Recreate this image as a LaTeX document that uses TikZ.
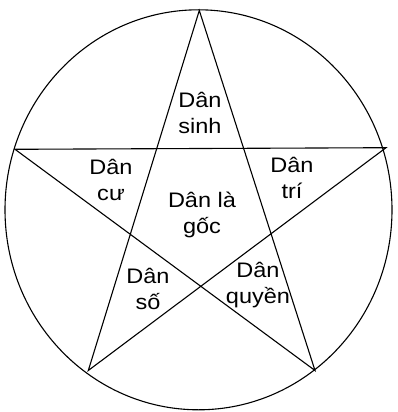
\documentclass[tikz,border=0pt]{standalone}
\usepackage{fontspec}
\setmainfont{Liberation Sans}
\newfontfamily\labfont[FakeStretch=1.12]{Liberation Sans}
\begin{document}
\begin{tikzpicture}[x=1pt,y=-1pt,
  line/.style={line width=1.1pt,line join=miter,black},
  lab/.style={align=center,font=\labfont\fontsize{21}{26.7}\selectfont,inner sep=0pt}]
\useasboundingbox (0,0) rectangle (397,412);
\coordinate (T) at (199.3,10.5);
\coordinate (L) at (15,149.3);
\coordinate (R) at (386,147.7);
\coordinate (BL) at (88.3,370.5);
\coordinate (BR) at (315,370.5);
\coordinate (O) at (198.5,209.8);
\draw[line] (O) ellipse [x radius=193.5, y radius=200];
\draw[line] (T) -- (BL) -- (R) -- (L) -- (BR) -- cycle;
\node[lab] (sinh) at (200,113) {Dân\\sinh};
\node[lab] (cu) at (111,180) {Dân\\cư};
\node[lab] (tri) at (292,178) {Dân\\trí};
\node[lab] (goc) at (202,215) {Dân là\\gốc};
\node[lab] (so) at (148,289) {Dân\\số};
\node[lab] (quyen) at (258,285) {Dân\\quyền};
\end{tikzpicture}
\end{document}
